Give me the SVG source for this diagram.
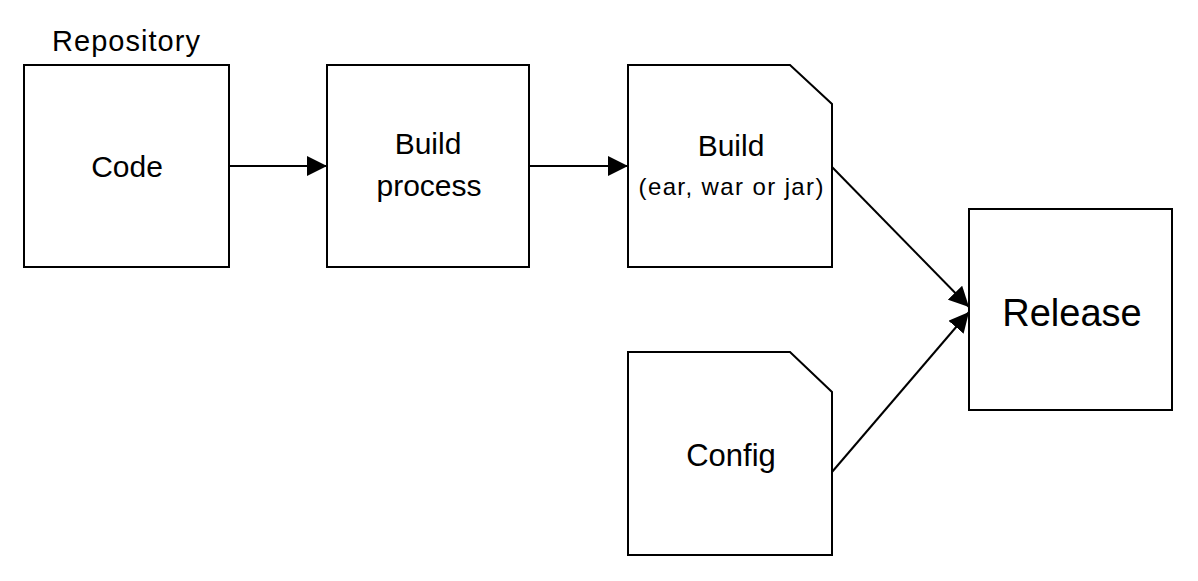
<svg xmlns="http://www.w3.org/2000/svg" width="1198" height="581" viewBox="0 0 1198 581">
<style>
.box{fill:#fff;stroke:#000;stroke-width:2}
.t{font-family:"Liberation Sans",Arial,sans-serif;fill:#000;text-anchor:middle}
.edge{stroke:#000;stroke-width:2;fill:none;marker-end:url(#ah)}
</style>
<defs>
<marker id="ah" markerWidth="20" markerHeight="20" refX="20" refY="10" orient="auto" markerUnits="userSpaceOnUse">
<path d="M0,0 L20,10 L0,20 Z" fill="#000"/>
</marker>
</defs>
<rect width="1198" height="581" fill="#fff"/>
<text class="t" x="126" y="51" font-size="29" textLength="148">Repository</text>
<g id="code">
<rect class="box" x="24" y="65" width="205" height="202"/>
<text class="t" x="127" y="177" font-size="30">Code</text>
</g>
<g id="build-process">
<rect class="box" x="327" y="65" width="202" height="202"/>
<text class="t" x="428" y="154" font-size="30">Build</text>
<text class="t" x="429" y="196" font-size="30">process</text>
</g>
<g id="build">
<path class="box" d="M628,65 H790 L832,104 V267 H628 Z"/>
<text class="t" x="731" y="156" font-size="30">Build</text>
<text class="t" x="731" y="195" font-size="24" textLength="185">(ear, war or jar)</text>
</g>
<g id="config">
<path class="box" d="M628,352 H790 L832,392 V555 H628 Z"/>
<text class="t" x="731" y="466" font-size="31">Config</text>
</g>
<g id="release">
<rect class="box" x="969" y="209" width="203" height="201"/>
<text class="t" x="1072" y="326" font-size="38">Release</text>
</g>
<g id="connectors">
<line class="edge" x1="229" y1="166" x2="327" y2="166"/>
<line class="edge" x1="529" y1="166" x2="628" y2="166"/>
<line class="edge" x1="832" y1="167" x2="969" y2="307"/>
<line class="edge" x1="832" y1="472" x2="969" y2="312"/>
</g>
</svg>
